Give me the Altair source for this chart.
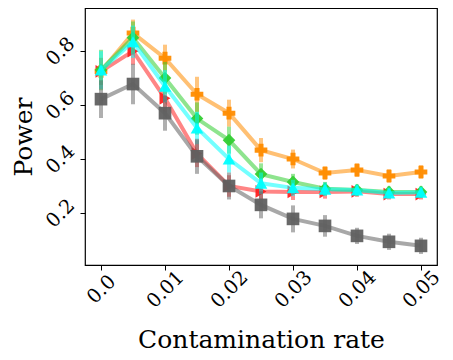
import altair as alt
import pandas as pd

rates = [0.0, 0.005, 0.01, 0.015, 0.02, 0.025, 0.03, 0.035, 0.04, 0.045, 0.05]
series_names = ["red", "orange", "green", "cyan", "gray"]
red_vals = [0.725, 0.80, 0.625, 0.42, 0.30, 0.28, 0.278, 0.278, 0.28, 0.27, 0.27]
red_err = [0.05, 0.05, 0.05, 0.05, 0.04, 0.03, 0.03, 0.025, 0.02, 0.02, 0.02]
orange_vals = [0.725, 0.867, 0.774, 0.64, 0.57, 0.433, 0.40, 0.348, 0.359, 0.337, 0.352]
orange_err = [0.05, 0.05, 0.05, 0.065, 0.05, 0.045, 0.035, 0.025, 0.025, 0.025, 0.025]
green_vals = [0.73, 0.85, 0.70, 0.55, 0.47, 0.344, 0.315, 0.29, 0.285, 0.278, 0.278]
green_err = [0.075, 0.06, 0.06, 0.06, 0.05, 0.04, 0.03, 0.025, 0.02, 0.02, 0.02]
cyan_vals = [0.73, 0.835, 0.67, 0.515, 0.40, 0.31, 0.293, 0.288, 0.285, 0.274, 0.277]
cyan_err = [0.07, 0.06, 0.06, 0.06, 0.05, 0.04, 0.03, 0.025, 0.02, 0.02, 0.02]
gray_vals = [0.622, 0.678, 0.57, 0.41, 0.30, 0.23, 0.178, 0.152, 0.115, 0.093, 0.078]
gray_err = [0.07, 0.075, 0.065, 0.065, 0.05, 0.05, 0.05, 0.04, 0.03, 0.03, 0.03]
x_ticks = [0.0, 0.01, 0.02, 0.03, 0.04, 0.05]
y_ticks = [0.2, 0.4, 0.6, 0.8]

colors = {"red": "#ff2020", "orange": "#ff8c00", "green": "#32cd32", "cyan": "#00ffff", "gray": "#606060"}
shapes = {"red": "triangle-right", "orange": "cross", "green": "diamond", "cyan": "triangle-up", "gray": "square"}
vals = {"red": red_vals, "orange": orange_vals, "green": green_vals, "cyan": cyan_vals, "gray": gray_vals}
errs = {"red": red_err, "orange": orange_err, "green": green_err, "cyan": cyan_err, "gray": gray_err}

font = "DejaVu Serif"
xscale = alt.Scale(domain=[-0.0025, 0.0525], nice=False, zero=False)
yscale = alt.Scale(domain=[0.007, 0.96], nice=False, zero=False)

xaxis = alt.Axis(values=x_ticks,
                 labelExpr="datum.value == 0 ? '0.0' : format(datum.value, '.2f')",
                 title="Contamination rate", titleY=82, titleBaseline="alphabetic")
yaxis = alt.Axis(values=y_ticks, format=".1f", title="Power",
                 titleX=-54, titleBaseline="alphabetic", titleAngle=-90)

layers = []
for name in series_names:
    df = pd.DataFrame({"rate": rates, "v": vals[name],
                       "lo": [a - b for a, b in zip(vals[name], errs[name])],
                       "hi": [a + b for a, b in zip(vals[name], errs[name])]})
    base = alt.Chart(df)
    x = alt.X("rate:Q", scale=xscale, axis=xaxis)
    y = alt.Y("v:Q", scale=yscale, axis=yaxis)
    err = base.mark_rule(color=colors[name], strokeWidth=4, opacity=0.5).encode(
        x=x, y=alt.Y("lo:Q", scale=yscale, axis=yaxis), y2="hi:Q")
    line = base.mark_line(color=colors[name], strokeWidth=4, opacity=0.55).encode(x=x, y=y)
    pts = base.mark_point(color=colors[name], shape=shapes[name], filled=True, size=160, opacity=0.95).encode(x=x, y=y)
    layers += [err, line, pts]

chart = alt.layer(*layers).properties(
    width=352, height=257,
    autosize=alt.AutoSizeParams(type="none"),
    padding={"left": 77, "top": 0, "right": 8, "bottom": 94},
).configure_view(
    stroke="black", strokeWidth=1.2
).configure_axis(
    labelFont=font, titleFont=font, labelFontSize=19.5, titleFontSize=25,
    titleFontWeight="normal", labelColor="black", titleColor="black",
    domain=False, grid=False, tickColor="black", tickSize=5, labelAngle=-45,
    labelAlign="center", labelBaseline="middle",
).configure_axisX(labelPadding=19).configure_axisY(labelPadding=20)

chart.save("out.html", embed_options={"renderer": "svg", "actions": False})
